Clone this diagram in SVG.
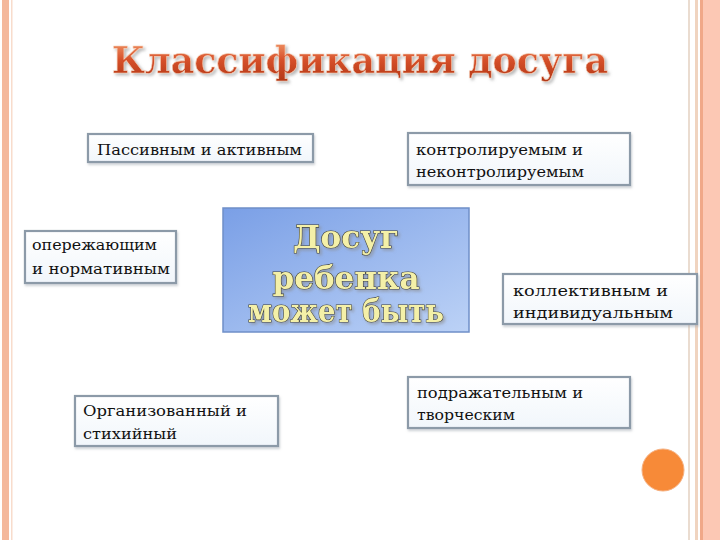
<svg xmlns="http://www.w3.org/2000/svg" width="720" height="540" viewBox="0 0 720 540">
<defs>
<linearGradient id="titleGrad" x1="0" y1="0" x2="0" y2="1">
<stop offset="0" stop-color="#f5a070"/>
<stop offset="0.5" stop-color="#d6502a"/>
<stop offset="1" stop-color="#b03515"/>
</linearGradient>
<linearGradient id="centerGrad" x1="0" y1="0" x2="1" y2="1">
<stop offset="0" stop-color="#7a9fe6"/>
<stop offset="1" stop-color="#bcd2f6"/>
</linearGradient>
<linearGradient id="boxGrad" x1="0" y1="0" x2="0" y2="1">
<stop offset="0" stop-color="#ffffff"/>
<stop offset="1" stop-color="#f1f6fb"/>
</linearGradient>
<filter id="shadow" x="-10%" y="-10%" width="130%" height="140%">
<feDropShadow dx="2" dy="2" stdDeviation="1.5" flood-color="#8a8a8a" flood-opacity="0.6"/>
</filter>
<filter id="boxShadow" x="-10%" y="-10%" width="130%" height="140%">
<feDropShadow dx="1" dy="2" stdDeviation="1.2" flood-color="#a0a8b0" flood-opacity="0.5"/>
</filter>
</defs>
<style>
.box { fill: url(#boxGrad); stroke: #8c9aa8; stroke-width: 2.2; filter: url(#boxShadow); }
.lbl { font-family: "DejaVu Serif", "Liberation Serif", serif; font-size: 15px; fill: #111; }
.title { font-family: "DejaVu Serif", "Liberation Serif", serif; font-weight: bold; font-size: 37px; fill: url(#titleGrad); stroke: #f6d0b8; stroke-width: 0.6; filter: url(#shadow); }
.center { font-family: "DejaVu Serif", "Liberation Serif", serif; font-weight: bold; font-size: 31px; fill: #f4f0a8; stroke: #3a3a30; stroke-width: 1.2; paint-order: stroke; filter: url(#shadow); }
</style>
<rect x="0" y="0" width="720" height="540" fill="#ffffff"/>
<g id="frame">
<rect x="2" y="0" width="7" height="540" fill="#f4b89c"/>
<rect x="11" y="0" width="1.5" height="540" fill="#f8dccc"/>
<rect x="688" y="0" width="2" height="540" fill="#eadcd0"/>
<rect x="695" y="0" width="3" height="540" fill="#f0d4c0"/>
<rect x="700" y="0" width="3" height="540" fill="#f0a888"/>
<rect x="703" y="0" width="17" height="540" fill="#fcc8b4"/>
</g>
<g id="title">
<text class="title" x="360" y="73" text-anchor="middle" textLength="496" lengthAdjust="spacingAndGlyphs">Классификация досуга</text>
</g>
<g id="connectors"></g>
<g id="center">
<rect x="223" y="208" width="246" height="124" fill="url(#centerGrad)" stroke="#6f8fc8" stroke-width="1.5"/>
<text class="center" x="346" y="248" text-anchor="middle">Досуг</text>
<text class="center" x="346" y="289" text-anchor="middle">ребенка</text>
<text class="center" x="346" y="322" text-anchor="middle" textLength="196" lengthAdjust="spacingAndGlyphs">может быть</text>
</g>
<g id="n1">
<rect class="box" x="88" y="134" width="225" height="28"/>
<text class="lbl" x="97" y="155" textLength="205" lengthAdjust="spacingAndGlyphs">Пассивным и активным</text>
</g>
<g id="n2">
<rect class="box" x="408" y="133" width="222" height="52"/>
<text class="lbl" x="416" y="155" textLength="167" lengthAdjust="spacingAndGlyphs">контролируемым и</text>
<text class="lbl" x="416" y="177" textLength="168" lengthAdjust="spacingAndGlyphs">неконтролируемым</text>
</g>
<g id="n3">
<rect class="box" x="25" y="231" width="151" height="52"/>
<text class="lbl" x="32" y="250" textLength="125" lengthAdjust="spacingAndGlyphs">опережающим</text>
<text class="lbl" x="32" y="274" textLength="138" lengthAdjust="spacingAndGlyphs">и нормативным</text>
</g>
<g id="n4">
<rect class="box" x="503" y="274" width="194" height="50"/>
<text class="lbl" x="513" y="296" textLength="155" lengthAdjust="spacingAndGlyphs">коллективным и</text>
<text class="lbl" x="513" y="318" textLength="160" lengthAdjust="spacingAndGlyphs">индивидуальным</text>
</g>
<g id="n5">
<rect class="box" x="75" y="396" width="203" height="50"/>
<text class="lbl" x="83" y="416" textLength="164" lengthAdjust="spacingAndGlyphs">Организованный и</text>
<text class="lbl" x="83" y="439" textLength="94" lengthAdjust="spacingAndGlyphs">стихийный</text>
</g>
<g id="n6">
<rect class="box" x="408" y="377" width="222" height="51"/>
<text class="lbl" x="417" y="398" textLength="166" lengthAdjust="spacingAndGlyphs">подражательным и</text>
<text class="lbl" x="417" y="420" textLength="98" lengthAdjust="spacingAndGlyphs">творческим</text>
</g>
<g id="dot">
<circle cx="663" cy="470" r="21" fill="#f78a38" stroke="#f6b080" stroke-width="1"/>
</g>
</svg>
